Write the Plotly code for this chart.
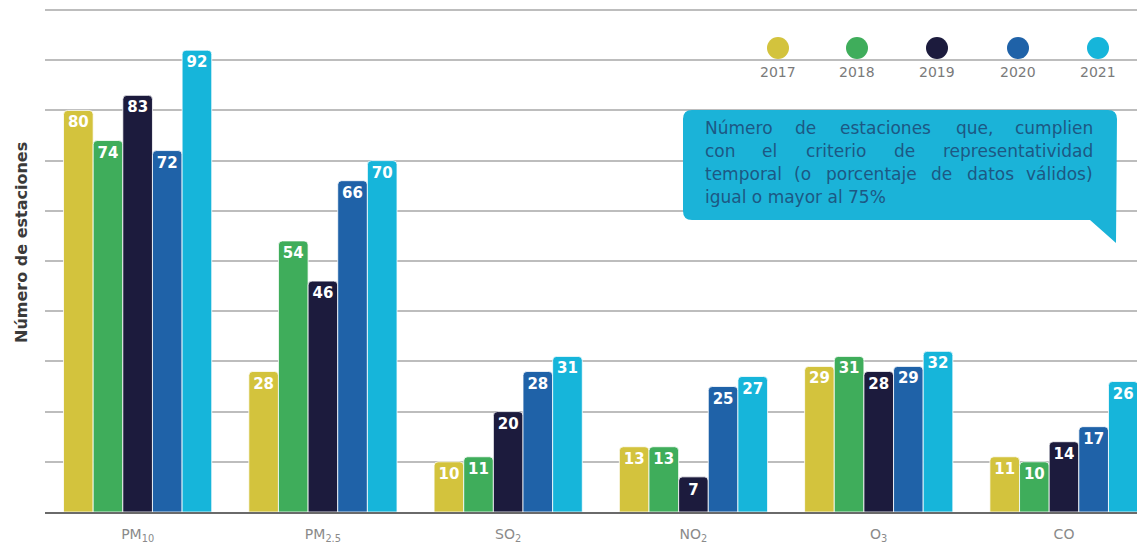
import plotly.graph_objects as go

# Air-quality monitoring: stations meeting the temporal representativeness criterion
contaminantes = ["PM<sub>10</sub>", "PM<sub>2.5</sub>", "SO<sub>2</sub>", "NO<sub>2</sub>", "O<sub>3</sub>", "CO"]
anios = ["2017", "2018", "2019", "2020", "2021"]
colores = ["#d3c33d", "#3fad5b", "#1c1b3d", "#1f62a8", "#16b5da"]

estaciones_2017 = [80, 28, 10, 13, 29, 11]
estaciones_2018 = [74, 54, 11, 13, 31, 10]
estaciones_2019 = [83, 46, 20, 7, 28, 14]
estaciones_2020 = [72, 66, 28, 25, 29, 17]
estaciones_2021 = [92, 70, 31, 27, 32, 26]
series = [estaciones_2017, estaciones_2018, estaciones_2019, estaciones_2020, estaciones_2021]

nota = [
    "Número de estaciones que, cumplien",
    "con el criterio de representatividad",
    "temporal (o porcentaje de datos válidos)",
    "igual o mayor al 75%",
]

# plot-area geometry in pixels (used to place the decorations in paper space)
L, R_EDGE, TOP, BASE = 45, 1137, 8, 512
W, H = R_EDGE - L, BASE - TOP


def px(x):
    return (x - L) / W


def py(y):
    return (BASE - y) / H


fig = go.Figure()
for anio, color, valores in zip(anios, colores, series):
    fig.add_trace(go.Bar(
        name=anio,
        x=contaminantes,
        y=valores,
        marker=dict(color=color, cornerradius=4, line=dict(color="white", width=0.8)),
        text=valores,
        texttemplate="%{text}",
        textposition="inside",
        insidetextanchor="end",
        textangle=0,
        constraintext="none",
        insidetextfont=dict(family="DejaVu Sans", size=15, color="white", weight="bold"),
        showlegend=False,
        hoverinfo="skip",
    ))

shapes = []
annotations = []

# white patch behind the year key (interrupts the gridline there)
shapes.append(dict(type="rect", xref="paper", yref="paper",
                   x0=px(736), x1=1.0, y0=py(70), y1=py(52),
                   fillcolor="white", line=dict(width=0), layer="between"))

# year key: dots with the year underneath
key_x = [778, 857, 937, 1018, 1098]
for cx, anio, color in zip(key_x, anios, colores):
    shapes.append(dict(type="circle", xref="paper", yref="paper",
                       x0=px(cx - 11), x1=px(cx + 11), y0=py(48 + 11), y1=py(48 - 11),
                       fillcolor=color, line=dict(width=0), layer="above"))
    annotations.append(dict(xref="paper", yref="paper", x=px(cx), y=py(72),
                            text=anio, showarrow=False, xanchor="center", yanchor="middle",
                            font=dict(family="DejaVu Sans", size=14, color="#7a7a7a")))

# speech-bubble note
bx0, bx1, by0, by1, r = 683, 1117, 110, 220, 9
pts = [
    ("M", bx0 + r, by0), ("L", bx1 - r, by0), ("Q", bx1, by0, bx1, by0 + r),
    ("L", 1116, 243), ("L", 1090, by1), ("L", bx0 + r, by1),
    ("Q", bx0, by1, bx0, by1 - r), ("L", bx0, by0 + r), ("Q", bx0, by0, bx0 + r, by0),
]
path = ""
for p in pts:
    if p[0] == "Q":
        path += f"Q {px(p[1]):.5f},{py(p[2]):.5f} {px(p[3]):.5f},{py(p[4]):.5f} "
    else:
        path += f"{p[0]} {px(p[1]):.5f},{py(p[2]):.5f} "
path += "Z"
shapes.append(dict(type="path", xref="paper", yref="paper", path=path,
                   fillcolor="#1bb3d8", line=dict(width=0), layer="above"))

# justified note text, word by word (approximate DejaVu Sans advance widths, in em)
FS = 17
ADV = {
    "a": .613, "b": .635, "c": .55, "d": .635, "e": .615, "f": .352, "g": .635, "h": .634,
    "i": .278, "j": .278, "k": .579, "l": .278, "m": .974, "n": .634, "o": .612, "p": .635,
    "q": .635, "r": .411, "s": .521, "t": .392, "u": .634, "v": .592, "w": .818, "x": .592,
    "y": .592, "z": .525, "á": .613, "ú": .634, "N": .748, ",": .318, "(": .39, ")": .39,
    "%": .95, ".": .318,
}


def word_width(w):
    return sum(ADV.get(ch, .636) for ch in w) * FS


tx0, tx1 = 703, 1095
line_y = [128, 151, 174, 197]
nota_font = dict(family="DejaVu Sans", size=FS, color="#1d5884")
for i, (linea, ly) in enumerate(zip(nota, line_y)):
    palabras = linea.split(" ")
    if i == len(nota) - 1:
        annotations.append(dict(xref="paper", yref="paper", x=px(tx0), y=py(ly), text=linea,
                                showarrow=False, xanchor="left", yanchor="middle", font=nota_font))
        continue
    anchos = [word_width(p) for p in palabras]
    gap = (tx1 - tx0 - sum(anchos)) / (len(palabras) - 1)
    xpos = tx0
    for j, (p, a) in enumerate(zip(palabras, anchos)):
        if j == 0:
            x, anchor = xpos, "left"
        elif j == len(palabras) - 1:
            x, anchor = tx1, "right"
        else:
            x, anchor = xpos + a / 2, "center"
        annotations.append(dict(xref="paper", yref="paper", x=px(x), y=py(ly), text=p,
                                showarrow=False, xanchor=anchor, yanchor="middle", font=nota_font))
        xpos += a + gap

# vertical axis title
annotations.append(dict(xref="paper", yref="paper", x=px(21), y=py(243),
                        text="Número de estaciones", textangle=-90, showarrow=False,
                        xanchor="center", yanchor="middle",
                        font=dict(family="DejaVu Sans", size=16, color="#3a3a3a", weight="bold")))

fig.update_layout(
    width=1137, height=545,
    margin=dict(l=L, r=0, t=TOP, b=545 - BASE),
    paper_bgcolor="white", plot_bgcolor="white",
    barmode="group", bargap=0.2, bargroupgap=0.0,
    shapes=shapes, annotations=annotations,
    xaxis=dict(range=[-0.5, 5.394], showline=True, linecolor="#6a6a6a", linewidth=2,
               ticks="", showgrid=False, ticklabelstandoff=8,
               tickfont=dict(family="DejaVu Sans", size=14, color="#8a8a8a")),
    yaxis=dict(range=[0, 100.4], dtick=10, showticklabels=False, showgrid=True,
               gridcolor="#bdbdbd", gridwidth=1.5, zeroline=False, showline=False, ticks=""),
    uniformtext=dict(minsize=15, mode="show"),
)

fig.write_html("out.html")
